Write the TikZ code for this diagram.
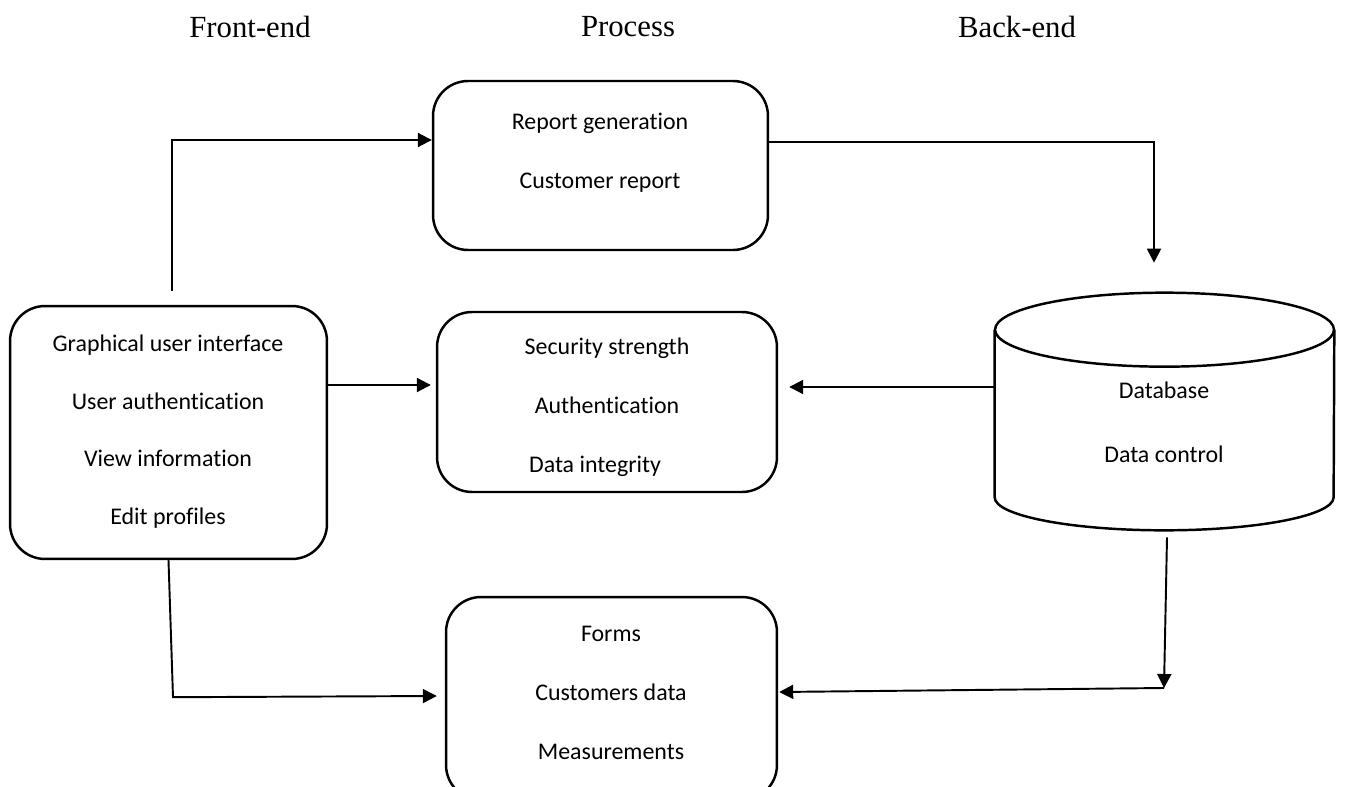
\documentclass[tikz,border=0pt]{standalone}
\usepackage{fontspec}
\setmainfont{Liberation Serif}
\newfontfamily\boxfont[Ligatures=NoCommon]{Carlito}
\usepackage{tikz}
\usetikzlibrary{calc}
\usetikzlibrary{arrows.meta}

\begin{document}
\begin{tikzpicture}[x=0.02cm, y=-0.02cm,
    box/.style={draw, line width=1.4pt, rounded corners=0.7cm, inner sep=0pt},
    boxtext/.style={align=center, font=\boxfont\fontsize{13.6}{33.6}\selectfont},
    head/.style={font=\fontsize{17.5}{20}\selectfont},
    arr/.style={line width=1.1pt, -{Triangle[length=0.28cm, width=0.28cm]}}]
    \useasboundingbox (0,0) rectangle (1345,787);

    % Headings
    \node[head] (hfront) at (250,27) {Front-end};
    \node[head] (hproc) at (628,27) {Process};
    \node[head] (hback) at (1017,27) {Back-end};

    % Front-end
    \node[box, minimum width=6.34cm, minimum height=5.06cm] (gui) at (168.5,432.5) {};
    \node[boxtext, font=\boxfont\fontsize{13.6}{32.8}\selectfont] (guitxt) at (168,431.5)
        {Graphical user interface\\User authentication\\View information\\Edit profiles};

    % Process
    \node[box, minimum width=6.7cm, minimum height=3.38cm] (rep) at (600.5,165.5) {};
    \node[boxtext] (reptxt) at (600,152.5) {Report generation\\Customer report};

    \node[box, minimum width=6.8cm, minimum height=3.6cm] (sec) at (607,402) {};
    \node[boxtext] (sectxt) at (607,407.5)
        {Security strength\\Authentication\\\hspace*{-0.48cm}Data integrity};

    \node[box, minimum width=6.62cm, minimum height=4.06cm] (frm) at (611.5,698.5) {};
    \node[boxtext] (frmtxt) at (611,693) {Forms\\Customers data\\Measurements};

    % Back-end (database drum)
    \node[minimum width=6.78cm, minimum height=4.74cm, inner sep=0pt] (db) at (1164.5,411.5) {};
    \draw[line width=1.4pt] ($(db.north)+(0,37)$) ellipse [x radius=3.39cm, y radius=0.74cm];
    \draw[line width=1.4pt] ($(db.north west)+(0,37)$) -- ($(db.south west)+(0,-33)$)
        arc[start angle=180, end angle=360, x radius=3.39cm, y radius=0.66cm]
        -- ($(db.north east)+(0,37)$);
    \node[boxtext, font=\boxfont\fontsize{13.6}{36.4}\selectfont] (dbtxt) at (1164,422)
        {Database\\Data control};

    % Connectors
    \draw[arr] ($(gui.north)+(3.5,-14)$) |- ($(rep.west)+(0,-25.5)$);
    \draw[arr] ($(rep.east)+(0,-23.5)$) -| ($(db.north)+(-10.5,-30)$);
    \draw[arr] ($(gui.east)+(0,-47.5)$) -- ($(sec.west)+(-5,-17)$);
    \draw[arr] ($(db.west)+(0,-24.5)$) -- ($(sec.east)+(11,-15)$);
    \draw[arr] (gui.south) -- ($(gui.south)+(4.5,137)$) -- ($(frm.west)+(-8,-2.5)$);
    \coordinate (jn) at (1164,688);
    \draw[arr] ($(db.south)+(2.5,7)$) -- (jn);
    \draw[arr] (jn) -- ($(frm.east)+(1,-6.5)$);
\end{tikzpicture}
\end{document}
